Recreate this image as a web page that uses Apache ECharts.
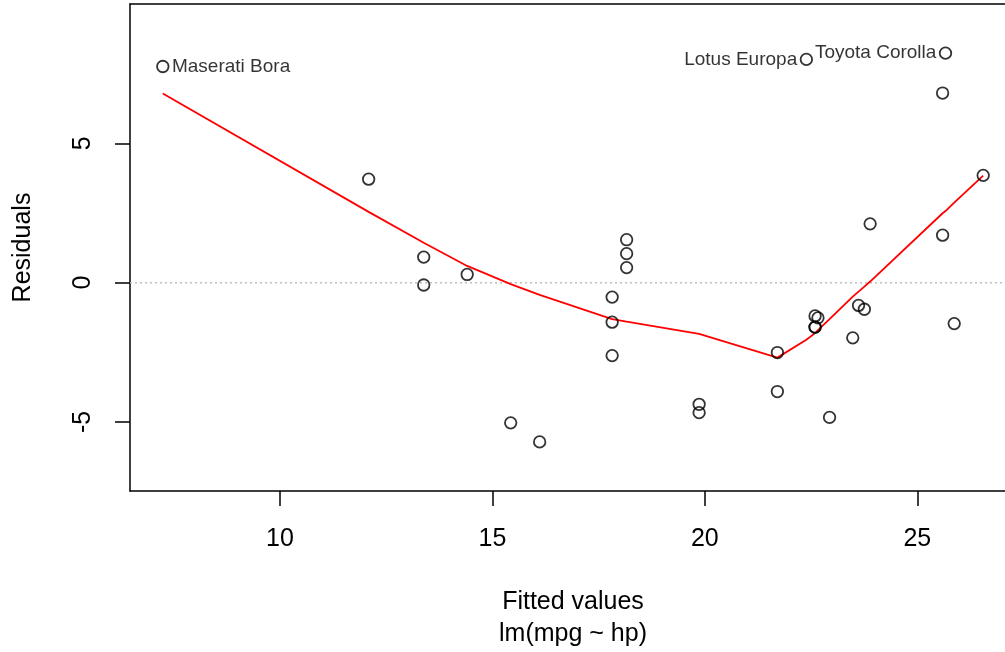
<!DOCTYPE html>
<html>
<head>
<meta charset="utf-8">
<script src="https://cdn.jsdelivr.net/npm/echarts@6/dist/echarts.min.js"></script>
<style>
  html, body { margin: 0; padding: 0; background: #fff; }
  #chart { width: 1005px; height: 652px; }
</style>
</head>
<body>
<div id="chart"></div>
<script>
// Residuals vs fitted values for lm(mpg ~ hp), one entry per car
const cars = [
  'Mazda RX4', 'Mazda RX4 Wag', 'Datsun 710', 'Hornet 4 Drive', 'Hornet Sportabout',
  'Valiant', 'Duster 360', 'Merc 240D', 'Merc 230', 'Merc 280', 'Merc 280C',
  'Merc 450SE', 'Merc 450SL', 'Merc 450SLC', 'Cadillac Fleetwood', 'Lincoln Continental',
  'Chrysler Imperial', 'Fiat 128', 'Honda Civic', 'Toyota Corolla', 'Toyota Corona',
  'Dodge Challenger', 'AMC Javelin', 'Camaro Z28', 'Pontiac Firebird', 'Fiat X1-9',
  'Porsche 914-2', 'Lotus Europa', 'Ford Pantera L', 'Ferrari Dino', 'Maserati Bora', 'Volvo 142E'
];
const fitted = [
  22.594, 22.594, 23.754, 22.594, 18.159,
  22.935, 13.383, 25.869, 23.617, 21.707, 21.707,
  17.818, 17.818, 17.818, 16.112, 15.430,
  14.406, 25.596, 26.551, 25.664, 23.481,
  19.865, 19.865, 13.383, 18.159, 25.596,
  23.890, 22.389, 12.087, 18.159, 7.242, 22.662
];
const residuals = [
  -1.594, -1.594, -0.954, -1.194, 0.541,
  -4.835, 0.917, -1.469, -0.817, -2.507, -3.907,
  -1.418, -0.518, -2.618, -5.713, -5.030,
  0.294, 6.804, 3.849, 8.236, -1.981,
  -4.365, -4.665, -0.083, 1.041, 1.704,
  2.110, 8.011, 3.713, 1.541, 7.757, -1.262
];
// Cars flagged with their name
const labelled = ['Maserati Bora', 'Lotus Europa', 'Toyota Corolla'];

// Smoothed trend through the residuals
const smoothX = [7.242, 12.087, 13.383, 14.406, 15.430, 16.112, 17.818, 18.159, 19.865,
  21.707, 22.389, 22.594, 22.662, 22.935, 23.481, 23.617, 23.754, 23.890,
  25.596, 25.664, 25.869, 26.551];
const smoothY = [6.79, 2.54, 1.43, 0.60, -0.05, -0.44, -1.31, -1.40, -1.84,
  -2.69, -2.05, -1.81, -1.70, -1.31, -0.50, -0.32, -0.14, 0.04,
  2.49, 2.57, 2.87, 3.84];

const xTicks = [10, 15, 20, 25];
const yTicks = [-5, 0, 5];

const X_MIN = 6.4701, X_MAX = 27.3233;
const Y_MIN = -7.4757, Y_MAX = 9.9991;

const FONT = "'Liberation Sans', Arial, Helvetica, sans-serif";
const xMid = (Math.min(...fitted) + Math.max(...fitted)) / 2;
const frameLine = { show: true, onZero: false, lineStyle: { color: '#000', width: 1.5 } };

const points = fitted.map((x, i) => {
  const item = { value: [x, residuals[i]], name: cars[i] };
  if (labelled.includes(cars[i])) {
    item.label = {
      show: true,
      formatter: cars[i],
      position: x > xMid ? 'left' : 'right',
      distance: 2.5,
      fontSize: 19,
      fontFamily: FONT,
      color: '#000'
    };
  }
  return item;
});

const chart = echarts.init(document.getElementById('chart'), null, { renderer: 'canvas' });
chart.setOption({
  backgroundColor: '#fff',
  animation: false,
  grid: {
    left: 130, top: 4, width: 886, height: 487,
    outerBoundsMode: 'none',
    containLabel: false,
    show: false
  },
  xAxis: [
    {
      type: 'value', min: X_MIN, max: X_MAX, position: 'bottom',
      name: 'Fitted values\nlm(mpg ~ hp)',
      nameLocation: 'middle', nameGap: 95,
      nameTextStyle: { fontSize: 25, fontFamily: FONT, color: '#000', lineHeight: 32 },
      axisLine: frameLine,
      splitLine: { show: false },
      axisTick: { show: true, inside: false, length: 15, customValues: xTicks,
        lineStyle: { color: '#000', width: 1.5 } },
      axisLabel: { customValues: xTicks, margin: 36, fontSize: 25, fontFamily: FONT, color: '#000' }
    },
    {
      // top edge of the frame
      type: 'value', min: X_MIN, max: X_MAX, position: 'top',
      axisLine: frameLine,
      splitLine: { show: false },
      axisTick: { show: false },
      axisLabel: { show: false }
    }
  ],
  yAxis: {
    type: 'value', min: Y_MIN, max: Y_MAX,
    name: 'Residuals',
    nameLocation: 'middle', nameGap: 94, nameRotate: 90,
    nameTextStyle: { fontSize: 25, fontFamily: FONT, color: '#000' },
    axisLine: frameLine,
    splitLine: { show: false },
    axisTick: { show: true, inside: false, length: 15, customValues: yTicks,
      lineStyle: { color: '#000', width: 1.5 } },
    axisLabel: { customValues: yTicks, rotate: 90, margin: 34, fontSize: 25, fontFamily: FONT, color: '#000' }
  },
  series: [
    {
      type: 'line',
      data: [[X_MIN, 0], [X_MAX, 0]],
      symbol: 'none',
      silent: true,
      lineStyle: { color: '#bebebe', width: 1.5, type: [2, 3] },
      z: 1
    },
    {
      type: 'line',
      data: smoothX.map((x, i) => [x, smoothY[i]]),
      symbol: 'none',
      silent: true,
      lineStyle: { color: '#ff0000', width: 1.8 },
      z: 2
    },
    {
      type: 'scatter',
      data: points,
      symbol: 'circle',
      symbolSize: 11.5,
      itemStyle: { color: 'transparent', borderColor: '#000', borderWidth: 1.8 },
      z: 3
    }
  ]
});
</script>
</body>
</html>
